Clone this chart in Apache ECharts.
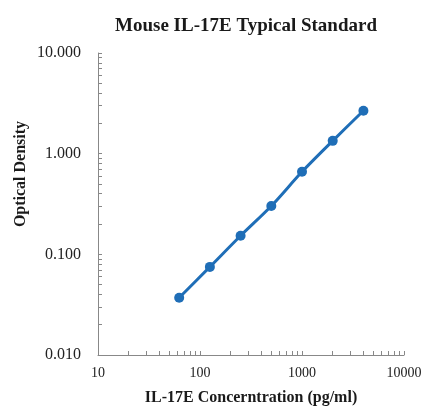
<!DOCTYPE html>
<html><head><meta charset="utf-8">
<script src="https://cdn.jsdelivr.net/npm/echarts@6/dist/echarts.min.js"></script>
<style>html,body{margin:0;padding:0;background:#fff}#c{width:425px;height:407px}</style>
</head><body><div id="c"></div>
<script>
const concentrations = [62.5, 125, 250, 500, 1000, 2000, 4000];
const opticalDensity = [0.037, 0.075, 0.153, 0.302, 0.66, 1.34, 2.67];
const xTickLabels = [10, 100, 1000, 10000];
const yTickLabels = [0.01, 0.1, 1, 10];
const xMinorTicks = [];
[10, 100, 1000].forEach(d => { for (let k = 1; k <= 10; k++) xMinorTicks.push(d * k); });
const yMinorTicks = [];
[0.01, 0.1, 1].forEach(d => { for (let k = 1; k <= 10; k++) yMinorTicks.push(+(d * k).toFixed(4)); });

const serif = '"Liberation Serif", "Times New Roman", serif';
const chart = echarts.init(document.getElementById('c'));
chart.setOption({
  animation: false,
  backgroundColor: '#fff',
  title: {
    text: 'Mouse IL-17E Typical Standard',
    left: 241, top: 12, textAlign: 'center',
    textStyle: { fontFamily: serif, fontSize: 19, fontWeight: 'bold', color: '#1a1a1a' }
  },
  grid: { left: 98, top: 53, right: 21, bottom: 52, containLabel: false, outerBoundsMode: 'none' },
  xAxis: {
    type: 'log', logBase: 10, min: 10, max: 10000,
    axisLine: { show: true, lineStyle: { color: '#888', width: 1 } },
    axisTick: { show: true, inside: true, length: 4, lineStyle: { color: '#888' }, customValues: xMinorTicks },
    axisLabel: { customValues: xTickLabels, fontFamily: serif, fontSize: 14, color: '#222', margin: 11,
      formatter: v => String(Math.round(v)) },
    splitLine: { show: false },
    name: 'IL-17E Concerntration (pg/ml)', nameLocation: 'middle', nameGap: 35,
    nameTextStyle: { fontFamily: serif, fontSize: 16, fontWeight: 'bold', color: '#1a1a1a' }
  },
  yAxis: {
    type: 'log', logBase: 10, min: 0.01, max: 10,
    axisLine: { show: true, lineStyle: { color: '#888', width: 1 } },
    axisTick: { show: true, inside: true, length: 4, lineStyle: { color: '#888' }, customValues: yMinorTicks },
    axisLabel: { customValues: yTickLabels, fontFamily: serif, fontSize: 16, color: '#222', margin: 17,
      formatter: v => v.toFixed(3) },
    splitLine: { show: false }
  },
  graphic: [{
    type: 'text', rotation: Math.PI / 2, x: 21, y: 174,
    style: { text: 'Optical Density', font: 'bold 16px ' + serif, fill: '#1a1a1a',
      textAlign: 'center', textVerticalAlign: 'middle' }
  }],
  series: [{
    type: 'line',
    data: concentrations.map((c, i) => [c, opticalDensity[i]]),
    smooth: 0.3,
    symbol: 'circle', symbolSize: 10,
    lineStyle: { color: '#1f6eb7', width: 3 },
    itemStyle: { color: '#1f6eb7' }
  }]
});
</script></body></html>
